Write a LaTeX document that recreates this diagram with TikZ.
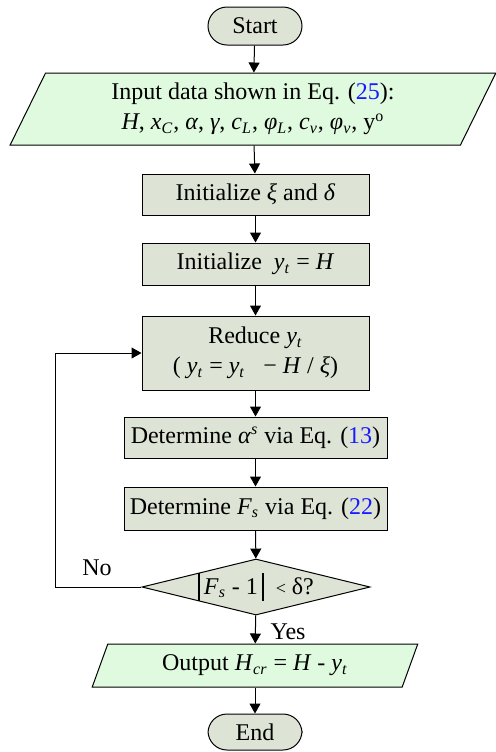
\documentclass[tikz,border=0pt]{standalone}
\usepackage{fontspec}
\setmainfont{Liberation Serif}
\usetikzlibrary{shapes.geometric,arrows.meta}
\definecolor{boxfill}{HTML}{DEE4D5}
\definecolor{iofill}{HTML}{E0FAE0}
\definecolor{eqblue}{HTML}{1A1AFF}
\newcommand{\var}[1]{\textit{#1}}
\newcommand{\absbar}{\rule[-0.28em]{0.9pt}{1.15em}}
\begin{document}
\begin{tikzpicture}[x=0.5pt,y=-0.5pt,
  font=\fontsize{12}{15}\selectfont, line width=0.5pt,
  terminal/.style={draw, rectangle, rounded corners=9.5pt, fill=boxfill, minimum width=47pt, minimum height=19pt, inner sep=0pt},
  process/.style={draw, rectangle, fill=boxfill, minimum height=20.5pt, inner sep=0pt, align=center},
  io/.style={draw, trapezium, trapezium left angle=65, trapezium right angle=115, trapezium stretches=true, fill=iofill, inner sep=0pt, align=center},
  decision/.style={draw, diamond, aspect=4.07, fill=boxfill, minimum width=114pt, minimum height=28pt, inner sep=0pt},
  flow/.style={-{Triangle[length=5pt,width=5.5pt]}}]
\useasboundingbox (0,0) rectangle (496,752);
\node[terminal] (start) at (255,26) {Start};
\node[io, minimum width=243pt, minimum height=36pt] (input) at (253,109) {Input data shown in Eq. (\textcolor{eqblue}{25}):\\
  \var{H}, \var{x}\textsubscript{\var{C}}, \var{α}, \var{γ}, \var{c}\textsubscript{\var{L}}, \var{φ}\textsubscript{\var{L}}, \var{c}\textsubscript{\var{v}}, \var{φ}\textsubscript{\var{v}}, y\textsuperscript{o}};
\node[process, minimum width=113.5pt] (initxi) at (255.5,194.5) {Initialize \var{ξ} and \var{δ}};
\node[process, minimum width=113.5pt, minimum height=21pt] (inity) at (255.5,264) {Initialize \ \var{y}\textsubscript{\var{t}} = \var{H}};
\node[process, minimum width=113.5pt, minimum height=37pt] (reduce) at (255.5,353) {Reduce \var{y}\textsubscript{\var{t}}\\
  ( \var{y}\textsubscript{\var{t}} = \var{y}\textsubscript{\var{t}} \ \ − \var{H} / \var{ξ})};
\node[process, minimum width=131.5pt] (alpha) at (255.5,437.5) {Determine \var{α}\textsuperscript{\var{s}} via Eq. (\textcolor{eqblue}{13})};
\node[process, minimum width=131.5pt, minimum height=21.5pt] (fs) at (255.5,508.5) {Determine \var{F}\textsubscript{\var{s}} via Eq. (\textcolor{eqblue}{22})};
\node[decision] (check) at (256,587) {\absbar\,\var{F}\textsubscript{\var{s}} - 1\,\absbar\ \ {\small <} δ?};
\node[io, minimum width=163pt, minimum height=21.5pt] (output) at (255,665.5) {Output \var{H}\textsubscript{\var{cr}} = \var{H} - \var{y}\textsubscript{\var{t}}};
\node[terminal, minimum height=18pt] (end) at (255,732) {End};
\coordinate (loop) at (55,587);

\draw[flow] (start) -- (input);
\draw[flow] (input) -- (initxi);
\draw[flow] (initxi) -- (inity);
\draw[flow] (inity) -- (reduce);
\draw[flow] (reduce) -- (alpha);
\draw[flow] (alpha) -- (fs);
\draw[flow] (fs) -- (check);
\draw[flow] (check) -- node[right, xshift=4pt, yshift=-1pt] {Yes} (output);
\draw[flow] (output) -- (end);
\draw[flow] (check.west) -- (loop) |- (reduce.west);
\node (no) at (97,568) {No};
\end{tikzpicture}
\end{document}
